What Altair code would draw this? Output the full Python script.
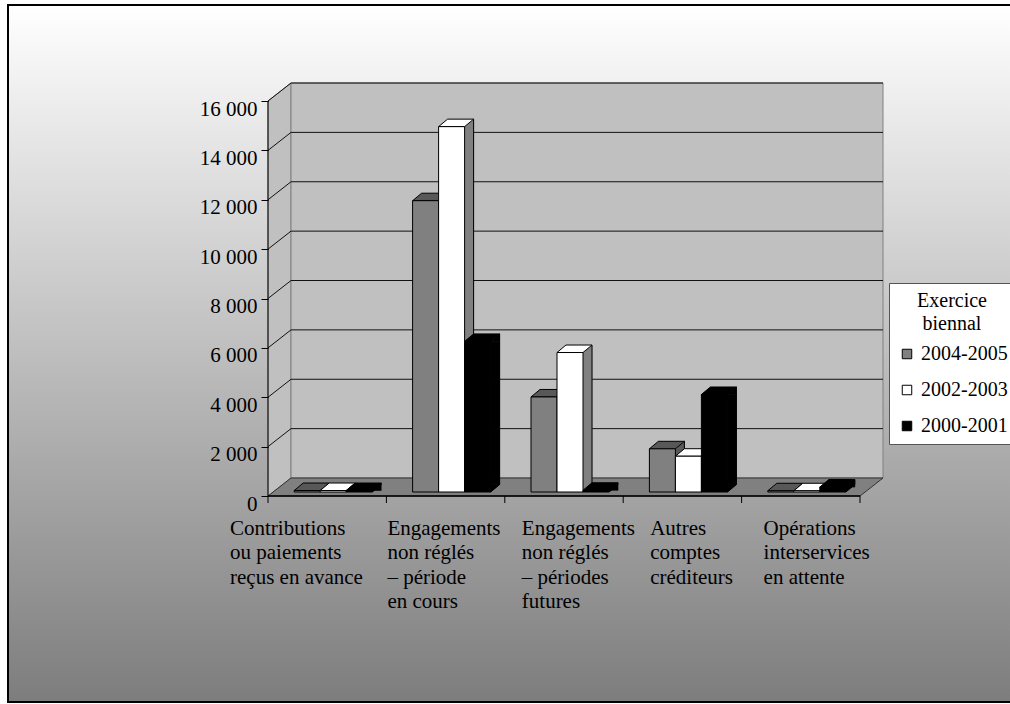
import altair as alt
import pandas as pd

# ---------------- data ----------------
categories = [
    "Contributions\nou paiements\nreçus en avance",
    "Engagements\nnon réglés\n– période\nen cours",
    "Engagements\nnon réglés\n– périodes\nfutures",
    "Autres\ncomptes\ncréditeurs",
    "Opérations\ninterservices\nen attente",
]
series = ["2004-2005", "2002-2003", "2000-2001"]
values_2004_2005 = [60, 11800, 3850, 1750, 50]
values_2002_2003 = [60, 14800, 5650, 1450, 50]
values_2000_2001 = [60, 6100, 70, 3950, 200]
y_ticks = [0, 2000, 4000, 6000, 8000, 10000, 12000, 14000, 16000]

series_values = [values_2004_2005, values_2002_2003, values_2000_2001]
series_colors = ["#808080", "#ffffff", "#000000"]
top_colors = ["#585858", "#ffffff", "#000000"]
side_colors = ["#585858", "#808080", "#000000"]

# ---------------- layout (pixels / 3D look) ----------------
W, H = 615, 413
PX = 24.6875 / 1000.0            # pixels per value unit
Y_MAX = H / PX
WALL_DX, WALL_DY_PX = 23, 18
WALL_DY = WALL_DY_PX / PX
FLOOR_W = 592
CAT_STEP = FLOOR_W / len(categories)
BAR_W = 26
BAR_SHIFT = 6
BAR_BASE = 4 / PX
TOP_DX, TOP_DY_PX = 9, 7.5
TOP_DY = TOP_DY_PX / PX
LABEL_DX = [-38, 1, 17, 27, 22]
FONT = "Liberation Serif"

XS = alt.Scale(domain=[0, W], nice=False, zero=False)
YS = alt.Scale(domain=[0, Y_MAX], nice=False, zero=False)
YAX = alt.Axis(
    values=y_ticks, title=None, grid=False, domain=False,
    tickSize=7, tickColor="black", tickWidth=1,
    labelFont=FONT, labelFontSize=21, labelColor="black",
    labelBaseline="top", labelPadding=4, labelOffset=-3,
    format=",d", labelExpr="replace(datum.label, ',', ' ')",
    labelOverlap=False, zindex=2,
)


def X(f):
    return alt.X(f, type="quantitative", scale=XS, axis=None)


def Y(f):
    return alt.Y(f, type="quantitative", scale=YS, axis=YAX, stack=None)


# polygon outlines (pixel offsets from an anchor point) for the 3D look
TOP_PATH = f"M0,0L{BAR_W},0L{BAR_W + TOP_DX},{-TOP_DY_PX}L{TOP_DX},{-TOP_DY_PX}Z"
TRI_BOTTOM = f"M0,0L{TOP_DX},{-TOP_DY_PX}L0,{-TOP_DY_PX}Z"
TRI_TOP = f"M0,0L{TOP_DX},{-TOP_DY_PX}L{TOP_DX},0Z"
FRONT_TOP_PX = y_ticks[-1] * PX
LEFT_WALL_PATH = f"M0,0L0,{-FRONT_TOP_PX}L{WALL_DX},{-H}L{WALL_DX},{-WALL_DY_PX}Z"
FLOOR_PATH = f"M0,0L{FLOOR_W},0L{W},{-WALL_DY_PX}L{WALL_DX},{-WALL_DY_PX}Z"

# ---------------- tables ----------------
rows = []
for i, cat in enumerate(categories):
    center = CAT_STEP * (i + 0.5)
    for j, s in enumerate(series):
        v = series_values[j][i]
        x0 = center - 1.5 * BAR_W + BAR_SHIFT + j * BAR_W
        x1 = x0 + BAR_W
        b = BAR_BASE
        t = b + v
        rows.append(dict(cat=cat, series=s, value=v, x0=x0, x1=x1, x1d=x1 + TOP_DX,
                         b=b, t=t, bd=b + TOP_DY, td=t + TOP_DY, srt=max(t, b + TOP_DY),
                         tcol=top_colors[j], scol=side_colors[j]))
bars = pd.DataFrame(rows)

back_wall = pd.DataFrame(dict(x0=[WALL_DX], x1=[W], y0=[WALL_DY], y1=[Y_MAX]))
grid = pd.DataFrame(dict(v=y_ticks[1:]))
grid["vb"] = grid["v"] + WALL_DY
ticks = pd.DataFrame(dict(x=[CAT_STEP * i for i in range(len(categories) + 1)]))
labels = pd.DataFrame(dict(label=categories,
                           lx=[CAT_STEP * i + LABEL_DX[i] for i in range(len(categories))]))
one = pd.DataFrame(dict(a=[0]))

# ---------------- layers ----------------
background = alt.Chart(one).mark_rect(
    fill={"gradient": "linear", "x1": 0, "x2": 0, "y1": 0, "y2": 1,
          "stops": [{"offset": 0, "color": "#ffffff"}, {"offset": 1, "color": "#7d7d7d"}]},
    stroke="black", strokeWidth=2,
).encode(x=alt.value(-260), x2=alt.value(760), y=alt.value(-78), y2=alt.value(619))

left_wall = alt.Chart(one).mark_point(
    shape=LEFT_WALL_PATH, size=4, filled=True, opacity=1,
    fill="#c0c0c0", stroke="#808080", strokeWidth=1,
).encode(x=alt.value(0), y=alt.value(H))
back_wall_l = alt.Chart(back_wall).mark_rect(fill="#c0c0c0", stroke="#808080", strokeWidth=1).encode(
    x=X("x0"), x2="x1", y=Y("y0"), y2="y1")
floor_l = alt.Chart(one).mark_point(
    shape=FLOOR_PATH, size=4, filled=True, opacity=1,
    fill="#808080", stroke="#333333", strokeWidth=1,
).encode(x=alt.value(0), y=alt.value(H))

grid_back = alt.Chart(grid).mark_rule(color="#111111", strokeWidth=1).encode(
    x=alt.value(WALL_DX), x2=alt.value(W), y=Y("vb"))
grid_side = alt.Chart(grid).mark_rule(color="#111111", strokeWidth=1).encode(
    x=alt.value(0), x2=alt.value(WALL_DX), y=Y("v"), y2="vb")

base = alt.Chart(bars)
side_rect = base.mark_rect(strokeWidth=0.6).encode(
    x=X("x1"), x2="x1d", y=Y("bd"), y2="srt",
    fill=alt.Fill("scol:N", scale=None), stroke=alt.Stroke("scol:N", scale=None))
side_tri_b = base.mark_point(shape=TRI_BOTTOM, size=4, filled=True, opacity=1, strokeWidth=0.6).encode(
    x=X("x1"), y=Y("b"),
    fill=alt.Fill("scol:N", scale=None), stroke=alt.Stroke("scol:N", scale=None))
side_tri_t = base.mark_point(shape=TRI_TOP, size=4, filled=True, opacity=1, strokeWidth=0.6).encode(
    x=X("x1"), y=Y("t"),
    fill=alt.Fill("scol:N", scale=None), stroke=alt.Stroke("scol:N", scale=None))
side_edge_v = base.mark_rule(color="black", strokeWidth=1).encode(
    x=X("x1d"), y=Y("bd"), y2="td")
side_edge_b = base.mark_rule(color="black", strokeWidth=1).encode(
    x=X("x1"), x2="x1d", y=Y("b"), y2="bd")
top_face = base.mark_point(shape=TOP_PATH, size=4, filled=True, opacity=1,
                           stroke="black", strokeWidth=1).encode(
    x=X("x0"), y=Y("t"), fill=alt.Fill("tcol:N", scale=None))

fronts_l = base.mark_rect(stroke="black", strokeWidth=1).encode(
    x=X("x0"), x2="x1", y=Y("b"), y2="t",
    color=alt.Color(
        "series:N",
        scale=alt.Scale(domain=series, range=series_colors),
        legend=alt.Legend(
            orient="none", legendX=621, legendY=200,
            title=["Exercice", "biennal"], titleFont=FONT, titleFontSize=20,
            titleFontWeight="normal", titleColor="black", titleAnchor="middle",
            titleAlign="center", titleLineHeight=23, titlePadding=10,
            labelFont=FONT, labelFontSize=20, labelColor="black", labelOffset=4,
            symbolType="square", symbolSize=90, symbolStrokeColor="black",
            symbolStrokeWidth=1, rowPadding=16,
            fillColor="white", strokeColor="#555555", padding=8,
        ),
    ),
    tooltip=["cat:N", "series:N", "value:Q"],
)

y_axis_line = alt.Chart(one).mark_rule(color="black", strokeWidth=1).encode(
    x=alt.value(0), y=Y("a"), y2=alt.datum(y_ticks[-1]))
floor_edge = alt.Chart(one).mark_rule(color="black", strokeWidth=1.5).encode(
    x=alt.value(0), x2=alt.value(FLOOR_W), y=Y("a"))
x_ticks = alt.Chart(ticks).mark_rule(color="black", strokeWidth=1).encode(
    x=X("x"), y=alt.value(H), y2=alt.value(H + 7))
cat_labels = alt.Chart(labels).mark_text(
    align="left", baseline="top", lineBreak="\n", lineHeight=24.4,
    font=FONT, fontSize=21, color="black",
).encode(x=X("lx"), y=alt.value(H + 22), text="label:N")

chart = alt.layer(
    background, left_wall, back_wall_l, floor_l, grid_back, grid_side,
    side_rect, side_tri_b, side_tri_t, side_edge_v, side_edge_b, top_face, fronts_l,
    y_axis_line, floor_edge, x_ticks, cat_labels,
).properties(
    width=W, height=H,
    autosize=alt.AutoSizeParams(type="none"),
    padding={"left": 268, "top": 83, "right": 1010 - 268 - W, "bottom": 704 - 83 - H},
    background="white",
).configure_view(stroke=None)

chart.save("out.html", embed_options={"renderer": "svg", "actions": False})
